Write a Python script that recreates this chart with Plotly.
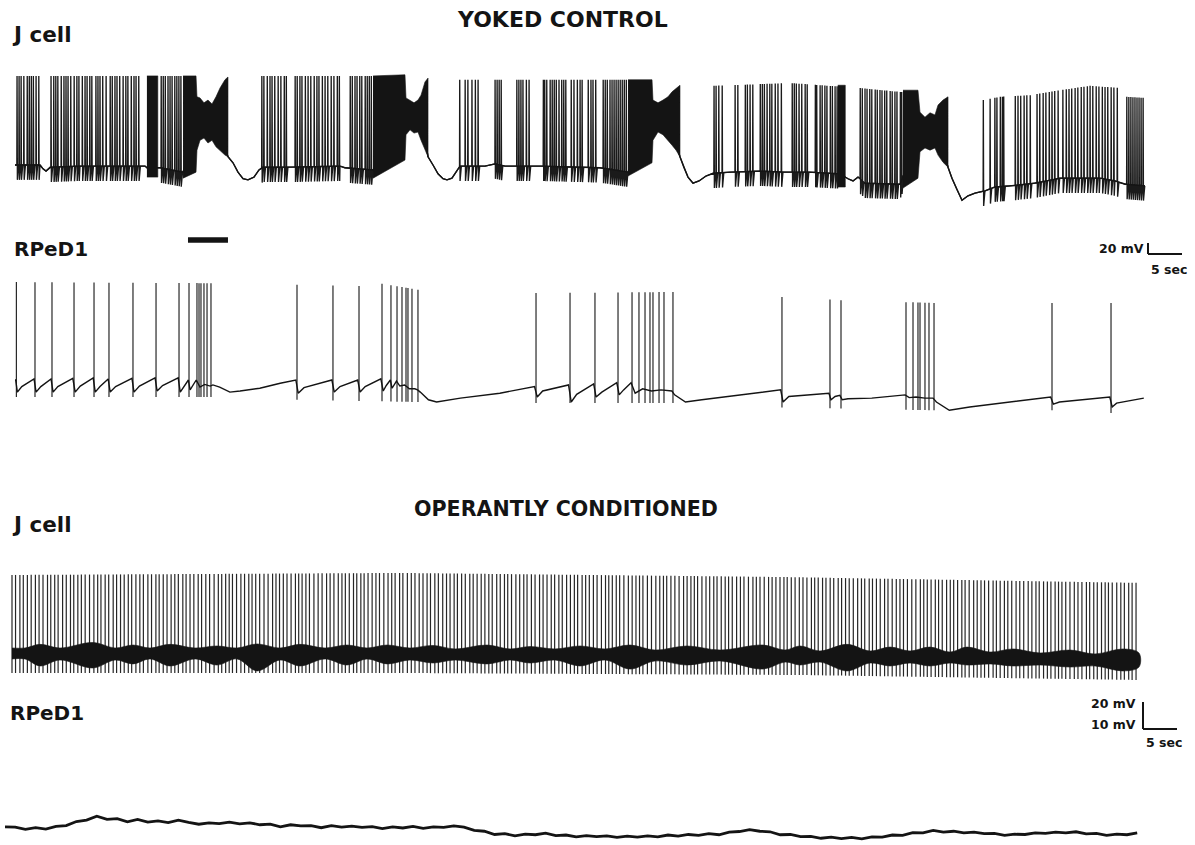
import numpy as np
import plotly.graph_objects as go

W, H = 1195, 845

# ---------------- YOKED CONTROL : J cell (time s, membrane potential mV, relative) ----------------
JC_YC_BASE_T = [0, 3.68, 4.12, 4.56, 5.15, 9.56, 13.97, 19.12, 19.41, 21.32, 24.71, 26.8, 29.9, 31.32, 32.06,
                32.79, 33.53, 34.26, 35.15, 35.88, 36.47, 40.44, 47.79, 48.53, 52.65, 57.6, 59.9, 60.74,
                61.47, 62.21, 62.94, 63.53, 64.26, 64.85, 65.44, 69.12, 70.59, 72.06, 77.21, 86.03, 90.15,
                93.9, 96.3, 97.79, 98.38, 98.97, 99.71, 100.59, 101.62, 102.65, 105.15, 109.56, 113.24,
                116.91, 121.32, 122.5, 123.24, 123.97, 125.0, 130.15, 133.2, 135.8, 137.21, 137.79,
                138.53, 139.26, 140.15, 141.18, 142.65, 144.12, 146.32, 150.0, 153.68, 159.56, 161.76,
                163.24, 166.18]
JC_YC_BASE_V = [0, 0, -7, -11, -4, -2, -2, -2, -5, -5, -13, 75, 70, 15, 4,
                -13, -25, -27, -22, -9, -4, -4, -2, -5, -9, 85, 80, 15,
                0, -16, -25, -27, -24, -13, -2, -2, 2, -2, -2, -5, -13,
                85, 80, 15, -5, -22, -33, -29, -20, -15, -13, -11, -13,
                -13, -16, -25, -29, -22, -33, -35, 60, 60, -4, -24,
                -45, -64, -56, -51, -47, -40, -38, -33, -24, -24, -29,
                -35, -38]
JC_YC_PEAK_T = [0, 53.7, 65.4, 90.4, 102.6, 114.0, 124.3, 142.4, 144.9, 149.3, 153.7, 158.1, 162.5, 163.5, 166.2]
JC_YC_PEAK_V = [162, 162, 155, 155, 144, 149, 140, 118, 124, 127, 136, 144, 140, 124, 122]
JC_YC_UNDERSHOOT = 27

JC_YC_SPIKES = [
    0.3, 0.6, 0.9, 1.3, 1.8, 2.1, 2.4, 2.7, 3.1, 3.5,
    5.3, 5.7, 6.0, 6.3, 6.8, 7.2, 7.5, 7.8, 8.2, 8.7, 9.1, 9.4, 9.9, 10.3, 10.6, 11.0, 11.3,
    11.9, 12.2, 12.5, 12.9, 13.4,
    14.0, 14.3, 14.7, 15.0, 15.4, 15.9, 16.3, 16.6, 17.1, 17.5, 17.8, 18.2,
    21.5, 21.8, 22.1, 22.5, 22.8, 23.1, 23.5, 23.8, 24.1, 24.4,
    36.3, 36.6, 37.1, 37.5, 37.8, 38.2, 38.7, 39.1, 39.6, 39.9,
    41.2, 41.5, 41.9, 42.2, 42.7, 43.1, 43.5, 44.0, 44.4, 44.7, 45.2, 45.6, 46.0, 46.5, 46.9, 47.4, 47.7,
    49.3, 49.6, 50.0, 50.3, 50.7, 51.0, 51.5, 51.8, 52.1, 52.4,
    65.4, 66.2, 66.6, 67.2, 67.7, 68.1,
    70.6, 70.9, 71.2, 71.5,
    73.8, 74.1, 74.4, 74.7, 75.2, 75.6,
    77.7, 77.9, 78.2, 78.7, 79.0, 79.3, 79.6, 80.0, 80.4, 80.7, 81.0,
    81.8, 82.2, 82.7, 83.1, 83.4,
    84.3, 84.7, 85.0, 85.4,
    86.5, 86.8, 87.1, 87.5, 87.8, 88.1, 88.4, 88.7, 89.0, 89.3, 89.6, 89.9,
    102.8, 103.1, 103.5, 104.0,
    105.9, 106.3,
    107.4, 107.7, 108.1, 108.5,
    109.6, 109.9, 110.2, 110.6, 111.0, 111.3, 111.8, 112.2, 112.7,
    114.3, 114.6, 114.9, 115.3, 115.7, 116.2, 116.5,
    117.7, 117.9, 118.4, 118.7, 119.1, 119.4, 119.9, 120.2, 120.6, 120.9,
    124.3, 124.6, 125.0, 125.3, 125.7, 126.0, 126.5, 126.8, 127.2, 127.5, 127.9, 128.2, 128.7, 129.0,
    129.4, 129.7, 130.2, 130.4,
    142.4, 143.4, 144.1, 144.4, 144.9, 145.2, 145.4,
    147.1, 147.5, 147.9, 148.4, 148.8, 149.3,
    150.3, 150.7, 151.2, 151.6, 152.1, 152.5, 152.9, 153.4,
    154.1, 154.6, 155.0, 155.4, 155.9, 156.3, 156.8, 157.2, 157.7, 158.1, 158.5, 159.0, 159.4, 159.9,
    160.3, 160.7, 161.2, 161.6, 162.1,
    163.5, 163.8, 164.1, 164.4, 164.7, 165.0, 165.3, 165.6, 165.9,
]

# High-frequency bursts (filled envelopes): time, upper and lower edge (mV)
BURST1_T = [24.71, 26.62, 26.76, 27.21, 27.79, 28.38, 28.97, 29.56, 30.15, 30.88, 31.32]
BURST1_TOP = [162, 162, 124, 122, 113, 118, 111, 124, 140, 155, 160]
BURST1_BOT = [-24, -13, 27, 45, 49, 40, 45, 33, 27, 18, 15]
BURST2_T = [52.65, 57.35, 57.5, 58.09, 58.68, 59.26, 59.71, 60.29, 60.74]
BURST2_TOP = [162, 164, 122, 118, 113, 118, 127, 151, 158]
BURST2_BOT = [-24, 9, 55, 64, 58, 60, 45, 27, 15]
BURST3_T = [90.15, 93.68, 93.82, 94.56, 95.29, 96.03, 96.62, 97.21, 97.79]
BURST3_TOP = [155, 155, 118, 113, 118, 124, 133, 140, 145]
BURST3_BOT = [-20, 4, 45, 60, 55, 45, 36, 27, 15]
BURST4_T = [130.59, 132.79, 133.09, 133.82, 134.56, 135.29, 135.74, 136.47, 137.21]
BURST4_TOP = [136, 136, 96, 87, 95, 91, 109, 118, 124]
BURST4_BOT = [-42, -24, 24, 31, 27, 31, 18, 5, -4]
DENSE1_T = [19.4, 21.0]
DENSE1_TOP = [162, 162]
DENSE1_BOT = [-22, -22]
DENSE2_T = [121.0, 122.1]
DENSE2_TOP = [145, 145]
DENSE2_BOT = [-40, -40]

# ---------------- YOKED CONTROL : RPeD1 ----------------
RP_YC_SPIKES = [0.2, 2.94, 5.44, 8.68, 11.62, 13.82, 17.35, 20.74, 24.12, 25.59,
                26.76, 27.06, 27.35, 27.79, 28.24, 28.82,
                41.47, 46.76, 50.59, 53.97, 55.29,
                56.18, 56.91, 57.5, 57.79, 58.38, 59.26,
                76.62, 81.62, 85.29, 88.68,
                90.74, 91.76, 92.65, 93.38, 93.82, 94.71, 95.44, 96.76,
                112.79, 119.85, 121.47,
                131.03, 132.06, 132.79, 133.09, 133.82, 134.41, 135.15,
                152.5, 161.18]
RP_YC_PEAK_T = [0, 28.8, 41.5, 50.6, 54.0, 59.3, 76.6, 96.8, 112.8, 121.5, 135.2, 161.2]
RP_YC_PEAK_V = [178, 176, 173, 171, 175, 164, 158, 160, 151, 145, 140, 140]
RP_YC_UNDER_T = [0, 29, 41.5, 59, 76.6, 97, 112.8, 135, 152.5, 161.2]
RP_YC_UNDER_V = [-31, -31, -36, -40, -42, -42, -50, -55, -55, -60]
RP_YC_BASE_T = [0, 0.1, 0.35, 1.0, 2.8, 3.1, 3.8, 5.3, 5.6, 6.3, 8.5, 8.85, 9.6, 11.5, 11.8, 12.5, 13.7,
                14.0, 14.8, 17.2, 17.5, 18.3, 20.6, 20.9, 21.7, 24.0, 24.3, 24.8, 25.5, 25.75, 26.2, 26.65,
                27.2, 27.9, 28.7, 29.1, 30.1, 31.6, 33.1, 36.0, 39.0, 41.3, 41.65, 42.5, 46.6, 46.95, 47.8,
                50.4, 50.75, 51.5, 53.8, 54.15, 54.6, 55.2, 55.45, 56.1, 56.6, 57.3, 58.0, 58.8, 59.2,
                59.6, 60.8, 62.0, 65.5, 71.3, 76.4, 76.8, 77.6, 81.4, 81.8, 82.6, 85.1, 85.45, 86.3, 88.5,
                88.85, 89.5, 90.6, 91.2, 92.3, 93.6, 95.0, 96.6, 97.0, 98.6, 101.0, 106.6, 112.6, 112.95,
                113.8, 119.7, 120.0, 120.6, 121.3, 121.65, 122.5, 126.0, 130.9, 131.5, 132.5, 133.8,
                135.0, 135.5, 137.4, 140.4, 144.9, 152.3, 152.7, 153.6, 161.0, 161.35, 162.0, 164.7, 166.0]
RP_YC_BASE_V = [0, 0, -22, -12, 2, -22, -12, 2, -22, -12, 3, -22, -11, 4, -22, -12, 2,
                -22, -12, 3, -22, -11, 4, -20, -10, 4, -22, -12, 0, -18, -8, 0,
                -13, -8, -11, -9, -13, -22, -20, -15, -6, 0, -24, -14, 0, -22, -12,
                0, -22, -12, 2, -20, -10, 0, -15, -2, -11, -9, -16, -16, -18,
                -22, -36, -40, -33, -24, -12, -31, -20, -9, -40, -26, -7, -31, -22, -5,
                -27, -18, -5, -24, -16, -20, -18, -20, -27, -40, -36, -27, -18, -40,
                -30, -24, -36, -30, -28, -36, -34, -33, -27, -32, -31, -33,
                -33, -40, -55, -49, -42, -31, -44, -40, -31, -49, -42, -36, -33]
STIM_T = [25.44, 31.32]

# ---------------- OPERANTLY CONDITIONED : J cell ----------------
JC_OC_FIRST_SPIKE = 1.03
JC_OC_ISI = [
    0.52, 0.64, 0.50, 0.60, 0.56, 0.62, 0.54, 0.58, 0.66, 0.48,
    0.58, 0.50, 0.66, 0.54, 0.62, 0.48, 0.60, 0.52, 0.56, 0.64,
    0.64, 0.56, 0.48, 0.62, 0.52, 0.66, 0.50, 0.58, 0.54, 0.60,
    0.50, 0.62, 0.58, 0.52, 0.66, 0.54, 0.64, 0.48, 0.60, 0.56,
    0.60, 0.54, 0.52, 0.66, 0.48, 0.58, 0.56, 0.64, 0.50, 0.62,
    0.56, 0.66, 0.62, 0.50, 0.58, 0.52, 0.48, 0.60, 0.64, 0.54,
    0.62, 0.48, 0.54, 0.58, 0.64, 0.60, 0.66, 0.50, 0.52, 0.56,
    0.54, 0.60, 0.64, 0.48, 0.50, 0.56, 0.52, 0.66, 0.62, 0.58,
    0.66, 0.52, 0.56, 0.64, 0.54, 0.50, 0.58, 0.62, 0.48, 0.60,
    0.48, 0.58, 0.60, 0.56, 0.52, 0.64, 0.62, 0.54, 0.50, 0.66,
    0.48, 0.66, 0.58, 0.54, 0.62, 0.56, 0.60, 0.50, 0.64, 0.52,
    0.64, 0.56, 0.52, 0.60, 0.48, 0.62, 0.54, 0.66, 0.50, 0.58,
    0.60, 0.54, 0.58, 0.50, 0.66, 0.52, 0.62, 0.48, 0.56, 0.64,
    0.56, 0.60, 0.48, 0.64, 0.54, 0.66, 0.52, 0.58, 0.62, 0.50,
    0.62, 0.50, 0.64, 0.56, 0.58, 0.48, 0.66, 0.52, 0.54, 0.60,
    0.54, 0.64, 0.60, 0.48, 0.52, 0.58, 0.50, 0.62, 0.66, 0.56,
    0.56, 0.52, 0.50, 0.66, 0.60, 0.64, 0.58, 0.54, 0.48, 0.62,
    0.58, 0.62, 0.66, 0.52, 0.56, 0.50, 0.48, 0.64, 0.60, 0.54,
    0.60, 0.48, 0.62, 0.58, 0.50, 0.54, 0.64, 0.56, 0.52, 0.66,
    0.66, 0.50, 0.54, 0.62, 0.64, 0.52, 0.56, 0.60, 0.58, 0.48,
    0.60, 0.56, 0.62, 0.54, 0.58, 0.66, 0.48, 0.52, 0.64, 0.50,
    0.62, 0.52, 0.66, 0.50, 0.58, 0.54, 0.60, 0.64, 0.56, 0.48,
    0.66, 0.48, 0.58, 0.56, 0.64, 0.50, 0.62, 0.60, 0.54, 0.52,
    0.58, 0.64, 0.60, 0.66, 0.50, 0.52, 0.56, 0.62, 0.48, 0.54,
    0.64, 0.54, 0.50, 0.58, 0.62, 0.48, 0.60, 0.66, 0.52, 0.56,
    0.52, 0.60, 0.66, 0.48, 0.56, 0.62, 0.50, 0.58, 0.64, 0.54,
    0.58, 0.66, 0.54, 0.60, 0.48, 0.64, 0.56, 0.52, 0.62, 0.50,
    0.50, 0.56, 0.62, 0.64, 0.54, 0.58, 0.66, 0.48, 0.60, 0.52,
    0.62, 0.54, 0.48, 0.56, 0.66, 0.60, 0.52, 0.64, 0.50, 0.58,
]
JC_OC_PEAK_T = [1.0, 58.1, 114.0, 140.4, 166.9]
JC_OC_PEAK_V = [57.8, 59.3, 56.3, 54.1, 51.9]
JC_OC_BOT_T = [1.0, 58.1, 116.9, 146.3, 166.9]
JC_OC_BOT_V = [-14.8, -14.8, -16.3, -18.5, -20.0]
# dense band of afterpotentials around the resting level
JC_OC_BAND_T = [1.03, 2.94, 5.15, 8.09, 12.94, 16.18, 18.82, 21.32, 24.26, 27.94, 31.18, 34.12, 37.06,
                40.44, 43.38, 47.06, 50.29, 53.24, 56.18, 59.56, 62.94, 66.18, 70.88, 74.26, 77.21,
                80.88, 84.56, 88.24, 91.91, 95.59, 100.29, 105.15, 111.47, 114.71, 116.91, 119.85,
                123.82, 127.21, 130.15, 133.09, 136.03, 138.97, 141.47, 144.85, 148.24, 152.21,
                156.62, 160.29, 164.41, 166.76]
JC_OC_BAND_TOP = [3.7, 3.7, 6.4, 3.7, 7.8, 3.7, 5.9, 3.7, 6.4, 3.7, 5.2, 3.7, 6.7,
                  3.7, 6.4, 3.7, 5.9, 3.7, 5.9, 3.7, 5.6, 3.0, 5.9, 3.0, 4.8,
                  3.0, 5.2, 3.0, 5.9, 2.2, 5.2, 2.2, 5.9, 2.2, 5.2, 1.5,
                  6.4, 1.5, 4.4, 1.5, 4.4, 0.7, 4.4, 0.7, 3.0, 0.0,
                  2.2, -0.7, 3.0, 0.0]
JC_OC_BAND_BOT = [-4.4, -4.4, -9.6, -5.2, -11.1, -5.2, -8.1, -4.4, -9.6, -4.4, -8.9, -4.4, -13.3,
                  -5.2, -9.6, -4.4, -8.9, -4.4, -8.1, -5.2, -7.4, -5.2, -8.1, -5.2, -7.4,
                  -5.2, -9.6, -5.2, -11.9, -5.9, -8.9, -5.9, -11.9, -6.7, -8.9, -6.7,
                  -13.3, -7.4, -9.6, -7.4, -9.6, -7.4, -8.9, -8.1, -9.6, -8.9,
                  -10.4, -9.6, -13.3, -10.4]

# ---------------- OPERANTLY CONDITIONED : RPeD1 ----------------
RP_OC_T = [0, 1.5, 3, 4.5, 6, 7.5, 9, 10.5, 12, 13.5, 15, 16.5, 18, 19.5, 21, 22.5, 24, 25.5, 27, 28.5,
           30, 31.5, 33, 34.5, 36, 37.5, 39, 40.5, 42, 43.5, 45, 46.5, 48, 49.5, 51, 52.5, 54, 55.5, 57,
           58.5, 60, 61.5, 63, 64.5, 66, 67.5, 69, 70.5, 72, 73.5, 75, 76.5, 78, 79.5, 81, 82.5, 84,
           85.5, 87, 88.5, 90, 91.5, 93, 94.5, 96, 97.5, 99, 100.5, 102, 103.5, 105, 106.5, 108, 109.5,
           111, 112.5, 114, 115.5, 117, 118.5, 120, 121.5, 123, 124.5, 126, 127.5, 129, 130.5, 132,
           133.5, 135, 136.5, 138, 139.5, 141, 142.5, 144, 145.5, 147, 148.5, 150, 151.5, 153, 154.5,
           156, 157.5, 159, 160.5, 162, 163.5, 165, 166.5]
RP_OC_V = [0.4, 0.3, -0.5, 0.1, -0.4, 0.6, 0.9, 2.4, 2.9, 4.4, 3.2, 3.5, 2.3, 3.2, 2.2, 2.6, 2.0, 2.9, 2.1, 1.4,
           1.9, 1.6, 2.2, 1.5, 1.9, 1.2, 1.4, 0.4, 1.2, 0.8, 0.9, 0.1, 0.9, 0.3, 0.7, 0.2, 0.5, -0.2, 0.4,
           0.0, 0.6, -0.1, 0.4, 0.2, 0.8, 0.3, -0.9, -1.2, -2.4, -2.1, -2.9, -2.3, -2.5, -1.9, -2.8, -2.6, -3.3,
           -2.8, -3.2, -2.9, -3.5, -3.0, -3.4, -2.9, -3.3, -2.6, -3.0, -2.4, -2.7, -2.1, -2.5, -1.5, -1.3, -0.6,
           -1.2, -1.4, -2.5, -2.4, -3.2, -3.1, -3.8, -3.4, -3.9, -3.5, -4.0, -3.3, -3.4, -2.6, -2.7,
           -1.7, -1.8, -0.9, -1.5, -1.2, -1.8, -1.5, -2.1, -2.0, -2.7, -2.3, -2.4, -1.8, -2.0, -1.5,
           -1.8, -1.4, -2.2, -2.0, -2.7, -2.3, -2.5, -1.8]

SCALE_T = 5      # s
SCALE_MV_TOP = 20
SCALE_MV_BOTTOM = 10

INK = "#141414"

# ---------------- layout geometry (pixels of the 1195 x 845 page) ----------------
PX_PER_S = 34 / 5.0


def x_range(origin_px):
    return [-origin_px / PX_PER_S, (W - origin_px) / PX_PER_S]


def y_axis(top_px, bottom_px, zero_px, px_per_mv):
    return dict(domain=[1 - bottom_px / H, 1 - top_px / H],
                range=[(zero_px - bottom_px) / px_per_mv, (zero_px - top_px) / px_per_mv],
                visible=False, fixedrange=True)


fig = go.Figure()


def line(x, y, xa, ya, width, color=INK, shape="linear"):
    fig.add_trace(go.Scatter(x=x, y=y, mode="lines", xaxis=xa, yaxis=ya,
                             line=dict(color=color, width=width, shape=shape),
                             hoverinfo="skip", showlegend=False))


def spikes(times, top_t, top_v, bot_t, bot_v, xa, ya, width, color):
    xs, ys = [], []
    for t in times:
        xs += [t, t, None]
        ys += [float(np.interp(t, bot_t, bot_v)), float(np.interp(t, top_t, top_v)), None]
    line(xs, ys, xa, ya, width, color)


def spike_train(base_t, base_v, spk, peak_t, peak_v, undershoot):
    """Resting trace with each action potential inserted as up-stroke, undershoot and recovery."""
    bt = np.asarray(base_t, float)
    bv = np.asarray(base_v, float)
    xs, ys = list(bt), list(bv)
    for t in spk:
        for dt, kind in ((-0.03, "b"), (0.0, "p"), (0.05, "u"), (0.24, "b")):
            tt = t + dt
            b = float(np.interp(tt, bt, bv))
            xs.append(tt)
            ys.append(float(np.interp(t, peak_t, peak_v)) if kind == "p" else (b - undershoot if kind == "u" else b))
    order = np.argsort(xs, kind="stable")
    return [xs[i] for i in order], [ys[i] for i in order]


def burst(t, top, bot, xa, ya, shape="linear"):
    fig.add_trace(go.Scatter(x=list(t) + list(t)[::-1], y=list(top) + list(bot)[::-1],
                             mode="lines", fill="toself", fillcolor=INK,
                             line=dict(color=INK, width=0.6, shape=shape), xaxis=xa, yaxis=ya,
                             hoverinfo="skip", showlegend=False))


# Yoked control J cell
jx, jy = spike_train(JC_YC_BASE_T, JC_YC_BASE_V, JC_YC_SPIKES, JC_YC_PEAK_T, JC_YC_PEAK_V, JC_YC_UNDERSHOOT)
line(jx, jy, "x", "y", 1.35, "#1a1a1a")
line(JC_YC_BASE_T, JC_YC_BASE_V, "x", "y", 1.3)
for bt, btop, bbot in [(BURST1_T, BURST1_TOP, BURST1_BOT), (BURST2_T, BURST2_TOP, BURST2_BOT),
                       (BURST3_T, BURST3_TOP, BURST3_BOT), (BURST4_T, BURST4_TOP, BURST4_BOT),
                       (DENSE1_T, DENSE1_TOP, DENSE1_BOT), (DENSE2_T, DENSE2_TOP, DENSE2_BOT)]:
    burst(bt, btop, bbot, "x", "y")

# Yoked control RPeD1
line(RP_YC_BASE_T, RP_YC_BASE_V, "x", "y2", 1.4)
spikes(RP_YC_SPIKES, RP_YC_PEAK_T, RP_YC_PEAK_V, RP_YC_UNDER_T, RP_YC_UNDER_V, "x", "y2", 1.1, INK)

# Operantly conditioned J cell
jc_oc_spikes = JC_OC_FIRST_SPIKE + np.concatenate([[0.0], np.cumsum(JC_OC_ISI)])
spikes(jc_oc_spikes, JC_OC_PEAK_T, JC_OC_PEAK_V, JC_OC_BOT_T, JC_OC_BOT_V, "x2", "y3", 1.2, "#262626")
burst(JC_OC_BAND_T, JC_OC_BAND_TOP, JC_OC_BAND_BOT, "x2", "y3", shape="spline")

# Operantly conditioned RPeD1
line(RP_OC_T, RP_OC_V, "x2", "y4", 2.8)

# scale bars
t_bar_top = (1148 - 15) / PX_PER_S
v_bar_top = (380 - 254) / 0.55
t_bar_bot = (1143 - 5) / PX_PER_S
v_bar_bot = (828 - 729) / 2.7
shapes = [
    dict(type="line", xref="x", yref="y2", x0=t_bar_top, x1=t_bar_top,
         y0=v_bar_top, y1=v_bar_top + SCALE_MV_TOP, line=dict(color=INK, width=2)),
    dict(type="line", xref="x", yref="y2", x0=t_bar_top, x1=t_bar_top + SCALE_T,
         y0=v_bar_top, y1=v_bar_top, line=dict(color=INK, width=2)),
    dict(type="line", xref="x2", yref="y4", x0=t_bar_bot, x1=t_bar_bot,
         y0=v_bar_bot, y1=v_bar_bot + SCALE_MV_BOTTOM, line=dict(color=INK, width=2)),
    dict(type="line", xref="x2", yref="y4", x0=t_bar_bot, x1=t_bar_bot + SCALE_T,
         y0=v_bar_bot, y1=v_bar_bot, line=dict(color=INK, width=2)),
    dict(type="line", xref="x", yref="paper", x0=STIM_T[0], x1=STIM_T[1],
         y0=1 - 240 / H, y1=1 - 240 / H, line=dict(color=INK, width=5.5)),
]


def label(text, x_px, y_px, size, xanchor="left"):
    return dict(text=text, x=x_px / W, y=1 - y_px / H, xref="paper", yref="paper",
                xanchor=xanchor, yanchor="middle", showarrow=False,
                font=dict(family="DejaVu Sans", size=size, color=INK, weight="bold"))


annotations = [
    label("YOKED CONTROL", 562, 19, 22, "center"),
    label("J cell", 10, 34, 21.5),
    label("RPeD1", 12, 249, 20),
    label("OPERANTLY CONDITIONED", 566, 509, 20.6, "center"),
    label("J cell", 10, 524, 21.5),
    label("RPeD1", 8, 713, 20),
    label("20 mV", 1146, 248, 12.5, "right"),
    label("5 sec", 1169, 269, 12.5, "center"),
    label("20 mV", 1138, 703, 12.5, "right"),
    label("10 mV", 1138, 724, 12.5, "right"),
    label("5 sec", 1164, 742, 12.5, "center"),
]

fig.update_layout(
    width=W, height=H, margin=dict(l=0, r=0, t=0, b=0),
    paper_bgcolor="white", plot_bgcolor="rgba(0,0,0,0)",
    showlegend=False,
    xaxis=dict(domain=[0, 1], range=x_range(15), visible=False, anchor="y", fixedrange=True),
    xaxis2=dict(domain=[0, 1], range=x_range(5), visible=False, anchor="y3", fixedrange=True),
    yaxis=dict(anchor="x", **y_axis(40, 226, 165, 0.55)),
    yaxis2=dict(anchor="x", **y_axis(228, 432, 380, 0.55)),
    yaxis3=dict(anchor="x2", **y_axis(540, 690, 653, 1.35)),
    yaxis4=dict(anchor="x2", **y_axis(692, 845, 828, 2.7)),
    shapes=shapes, annotations=annotations,
)

fig.write_html("out.html")
